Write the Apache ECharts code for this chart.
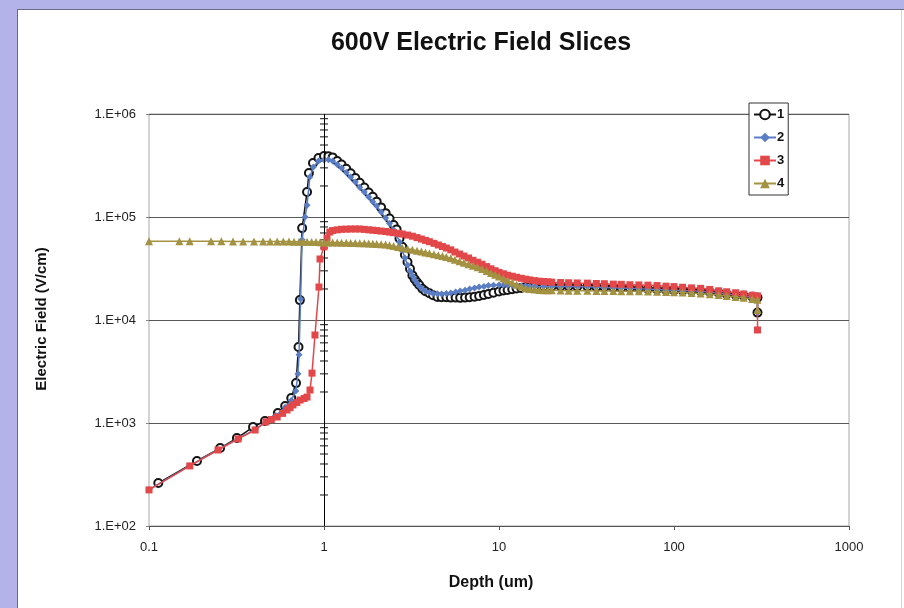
<!DOCTYPE html>
<html><head><meta charset="utf-8">
<script src="https://cdn.jsdelivr.net/npm/echarts@6/dist/echarts.min.js"></script>
<style>
html,body{margin:0;padding:0;width:904px;height:608px;overflow:hidden;background:#b3b3e9;}
#panel{position:absolute;left:17px;top:9px;width:887px;height:599px;background:#fff;border-left:1px solid #6b6b86;border-top:1px solid #6b6b86;box-sizing:border-box;}
#edge{position:absolute;left:901px;top:10px;width:1px;height:598px;background:#d4d4d4;}
#chart{position:absolute;left:0;top:0;width:904px;height:608px;}
</style></head><body>
<div id="panel"></div><div id="edge"></div><div id="chart"></div>
<script>
// ---- data (Depth in um, Electric field in V/cm) ----
const seriesNames = ['1', '2', '3', '4'];
const yDecades = [2, 3, 4, 5, 6];
const minorMultipliers = [2, 3, 4, 5, 6, 7, 8, 9];

const slice1 = [[0.113,261],[0.188,428],[0.255,571],[0.318,714],[0.393,914],[0.46,1045],[0.545,1250],[0.6,1460],[0.65,1750],[0.692,2440],[0.715,5470],[0.728,15600],[0.75,78000],[0.8,175000],[0.82,267000],[0.865,334000],[0.93,374000],[1,391000],
[1.12,379000],[1.26,324000],[1.42,266000],[1.6,215000],[1.8,173000],[2.0,141000],[2.25,109000],[2.5,83600],[2.7,61800],[2.9,43000],[3.1,31400],[3.3,24900],[3.5,21900],[3.8,19000],[4.2,17400],[4.7,16600],[5.3,16500],[6.0,16400],[6.8,16600],[7.7,17100],[8.7,17900],[10,18900],[11.2,19600],[12.6,20200],[14.2,20800],[16,21000],[18,21100],[20,21200],[22.5,21300],[25,21300],[28,21200],[32,21100],[36,20900],[40,20800],[45,20600],[50,20500],[56,20300],[63,20200],[71,20000],[80,19800],[90,19600],[100,19500],[112,19400],[126,19200],[142,19100],[160,18800],[180,18400],[200,17900],[225,17500],[250,17200],[280,16800],[300,16500],[300,11800]];
const slice1Extra = [[1.06,388000],[1.19,350000],[1.34,294000],[1.51,239000],[1.7,193000],[1.9,157000],[2.12,124000],[2.37,96600],[2.6,75800],[2.8,51300],[3.0,36600],[3.2,27100],[3.4,23300],[3.65,20100],[4.0,18200],[4.45,16700],[5.0,16600],[5.65,16500],[6.4,16500],[7.25,16800],[8.2,17500],[9.3,18400],[10.6,19300],[11.9,19900],[13.4,20500],[15,20900]];

const slice2 = [[0.1,226],[0.171,385],[0.248,550],[0.323,705],[0.404,865],[0.466,1030],[0.53,1180],[0.6,1420],[0.65,1650],[0.69,2050],[0.71,3000],[0.72,4600],[0.735,16000],[0.75,60000],[0.78,100000],[0.8,130000],[0.83,244000],[0.87,305000],[0.93,350000],[1,357000],
[1.12,350000],[1.26,299000],[1.42,244000],[1.6,195000],[1.8,156000],[2.0,128000],[2.25,97800],[2.5,74800],[2.7,57200],[2.9,40000],[3.1,29900],[3.3,24400],[3.5,21400],[3.8,19100],[4.2,18100],[4.7,17900],[5.3,18300],[6.0,19100],[6.8,20000],[7.7,20900],[8.7,21600],[10,21900],[11.2,21900],[12.6,21600],[14.2,21400],[16,21100],[18,21100],[20,21100],[22.5,21200],[25,21200],[28,21100],[32,21000],[36,20900],[40,20700],[45,20600],[50,20400],[56,20300],[63,20100],[71,20000],[80,19800],[90,19600],[100,19500],[112,19300],[126,19200],[142,19000],[160,18700],[180,18300],[200,17900],[225,17500],[250,17100],[280,16700],[300,16400],[300,11800]];
const slice2Extra = [[1.06,360000],[1.19,324000],[1.34,270000],[1.51,219000],[1.7,175000],[1.9,141000],[2.12,112000],[2.37,86500],[2.6,66800],[2.8,47800],[3.0,34200],[3.2,26900],[3.4,22900],[3.65,20000],[4.0,18500],[4.45,18000],[5.0,18100],[5.65,18700],[6.4,19500],[7.25,20400],[8.2,21200],[9.3,21700],[10.6,21900],[11.9,21800],[13.4,21500],[15,21200]];

const slice3 = [[0.1,224],[0.171,383],[0.248,547],[0.323,700],[0.404,855],[0.466,1024],[0.5,1080],[0.54,1143],[0.58,1240],[0.615,1337],[0.64,1410],[0.665,1497],[0.7,1580],[0.73,1670],[0.77,1730],[0.8,1786],[0.832,2090],[0.854,3050],[0.888,7150],[0.936,20900],[0.949,39100],[1,51200],[1.04,62500],[1.08,71500],[1.12,73900],[1.26,76000],[1.42,76500],[1.6,76500],[1.8,75100],[2.0,73800],[2.25,72300],[2.5,70400],[2.8,68400],[3.2,65100],[3.6,61100],[4.0,57600],[4.5,53500],[5.0,50000],[5.6,45700],[6.3,41800],[7.1,38000],[8.0,34800],[9.0,31400],[10,29000],[11.2,27200],[12.6,26000],[14.2,24900],[16,24100],[18,23600],[20,23300],[22.5,23100],[25,23000],[28,22900],[32,22800],[36,22600],[40,22500],[45,22300],[50,22200],[56,22000],[63,21900],[71,21800],[80,21600],[90,21300],[100,21100],[112,20800],[126,20500],[142,20300],[160,19800],[180,19200],[200,18800],[225,18400],[250,17900],[280,17400],[300,17100],[300,8000]];
const slice3Extra = [[1.19,75000],[1.34,76200],[1.51,76500],[1.7,75800],[1.9,74500],[2.12,73000],[2.37,71300],[2.65,69400],[3.0,66800],[3.4,63100],[3.8,59300],[4.25,55500],[4.75,51700],[5.3,48000],[5.95,43700],[6.7,40000],[7.55,36400],[8.5,33000],[9.5,30100],[10.6,28100],[11.9,26600],[13.4,25400],[15,24500],[17,23800],[19,23500]];

const slice4 = [[0.1,58000],[0.149,58000],[0.171,58000],[0.226,58000],[0.259,58000],[0.302,57900],[0.345,57900],[0.398,57900],[0.449,57800],[0.492,57800],[0.54,57800],[0.585,57700],[0.631,57700],[0.674,57600],[0.72,57600],[0.76,57500],[0.8,57400],[0.85,57300],[0.9,57100],[0.95,56900],[1,56700],[1.12,56500],[1.26,56300],[1.42,56000],[1.6,55700],[1.8,55300],[2.0,54700],[2.25,54200],[2.5,52200],[2.8,50200],[3.2,48100],[3.6,46200],[4.0,44400],[4.5,42600],[5.0,41000],[5.6,38500],[6.3,36000],[7.1,33700],[8.0,31300],[9.0,28600],[10,26400],[11.2,24200],[12.6,22000],[14.2,20300],[16,19800],[18,19500],[20,19400],[22.5,19300],[25,19200],[28,19200],[32,19200],[36,19100],[40,19100],[45,19100],[50,19000],[56,19000],[63,19000],[71,18900],[80,18800],[90,18700],[100,18600],[112,18500],[126,18300],[142,18100],[160,17800],[180,17500],[200,17100],[225,16700],[250,16400],[280,16000],[300,15700],[300,12500]];
const slice4Extra = [[1.06,56600],[1.19,56400],[1.34,56100],[1.51,55800],[1.7,55500],[1.9,55000],[2.12,54500],[2.37,53200],[2.65,51200],[3.0,49100],[3.4,47100],[3.8,45300],[4.25,43500],[4.75,41800],[5.3,39700],[5.95,37200],[6.7,34800],[7.55,32500],[8.5,29900],[9.5,27500],[10.6,25300],[11.9,23100],[13.4,21100],[15,20000],[17,19600],[19,19450]];

// ---- presentation ----
const FONT = '"Liberation Sans", Arial, Helvetica, sans-serif';
const colors = ['#151515', '#5a7dc4', '#e2474a', '#a39241'];
const symbols = ['emptyCircle', 'diamond', 'rect', 'triangle'];
const symbolSizes = [8, 7, 7, 8];
const allSlices = [[slice1, slice1Extra], [slice2, slice2Extra], [slice3, slice3Extra], [slice4, slice4Extra]]
  .map(([a, b]) => a.concat(b).sort((p, q) => p[0] - q[0]));

const minorTicks = [];
yDecades.slice(0, -1).forEach(d => minorMultipliers.forEach(m => minorTicks.push([1, m * Math.pow(10, d)])));

const lineSeries = allSlices.map((data, i) => ({
  name: seriesNames[i], type: 'line', data: data, z: 3 + i,
  symbol: symbols[i], symbolSize: symbolSizes[i],
  itemStyle: { color: colors[i], borderWidth: i === 0 ? 1.2 : 0 },
  lineStyle: { color: colors[i], width: 1.5 },
  emphasis: { disabled: true }
}));

const chart = echarts.init(document.getElementById('chart'), null, { renderer: 'canvas' });
chart.setOption({
  animation: false,
  backgroundColor: 'transparent',
  textStyle: { fontFamily: FONT },
  grid: { left: 149, top: 114, width: 700, height: 412, show: true, borderColor: '#a8a8a8', borderWidth: 1 },
  legend: {
    data: seriesNames, orient: 'vertical', left: 749, top: 103,
    itemWidth: 22, itemHeight: 12, itemGap: 10, padding: [5, 4, 5, 4],
    borderColor: '#333', borderWidth: 1, backgroundColor: '#fff',
    textStyle: { fontWeight: 'bold', fontSize: 13, color: '#111', fontFamily: FONT, padding: [0, 0, 0, -4] }
  },
  xAxis: {
    type: 'log', logBase: 10, min: 0.1, max: 1000,
    axisLine: { show: true, lineStyle: { color: '#555', width: 1 } },
    axisTick: { show: true, length: 4, lineStyle: { color: '#555' } },
    axisLabel: { fontSize: 13, color: '#222', margin: 15, formatter: v => String(+Number(v).toPrecision(3)) },
    splitLine: { show: false }
  },
  yAxis: {
    type: 'log', logBase: 10, min: 100, max: 1e6,
    axisLine: { show: false },
    axisTick: { show: true, length: 3, lineStyle: { color: '#888' } },
    axisLabel: { fontSize: 13, color: '#222', margin: 13, formatter: v => '1.E+0' + Math.round(Math.log10(v)) },
    splitLine: { show: true, lineStyle: { color: '#5a5a5a', width: 1 } }
  },
  graphic: [
    { type: 'text', x: 481, y: 43, style: { text: '600V Electric Field Slices', font: 'bold 25px ' + FONT, fill: '#111', textAlign: 'center', verticalAlign: 'middle', textVerticalAlign: 'middle' } },
    { type: 'text', x: 42, y: 319, rotation: Math.PI / 2, style: { text: 'Electric Field (V/cm)', font: 'bold 15px ' + FONT, fill: '#111', textAlign: 'center', verticalAlign: 'middle', textVerticalAlign: 'middle' } },
    { type: 'text', x: 491, y: 583, style: { text: 'Depth (um)', font: 'bold 16px ' + FONT, fill: '#111', textAlign: 'center', verticalAlign: 'middle', textVerticalAlign: 'middle' } }
  ],
  series: [{
    type: 'custom', z: 1, silent: true, data: minorTicks, encode: { x: 0, y: 1 },
    renderItem: (params, api) => {
      const p = api.coord([api.value(0), api.value(1)]);
      return { type: 'line', shape: { x1: p[0] - 4, y1: p[1], x2: p[0] + 4, y2: p[1] }, style: { stroke: '#111', lineWidth: 1 } };
    },
    markLine: { silent: true, symbol: 'none', label: { show: false }, lineStyle: { color: '#000', width: 1, type: 'solid' }, data: [{ xAxis: 1 }] }
  }].concat(lineSeries)
});
</script></body></html>
